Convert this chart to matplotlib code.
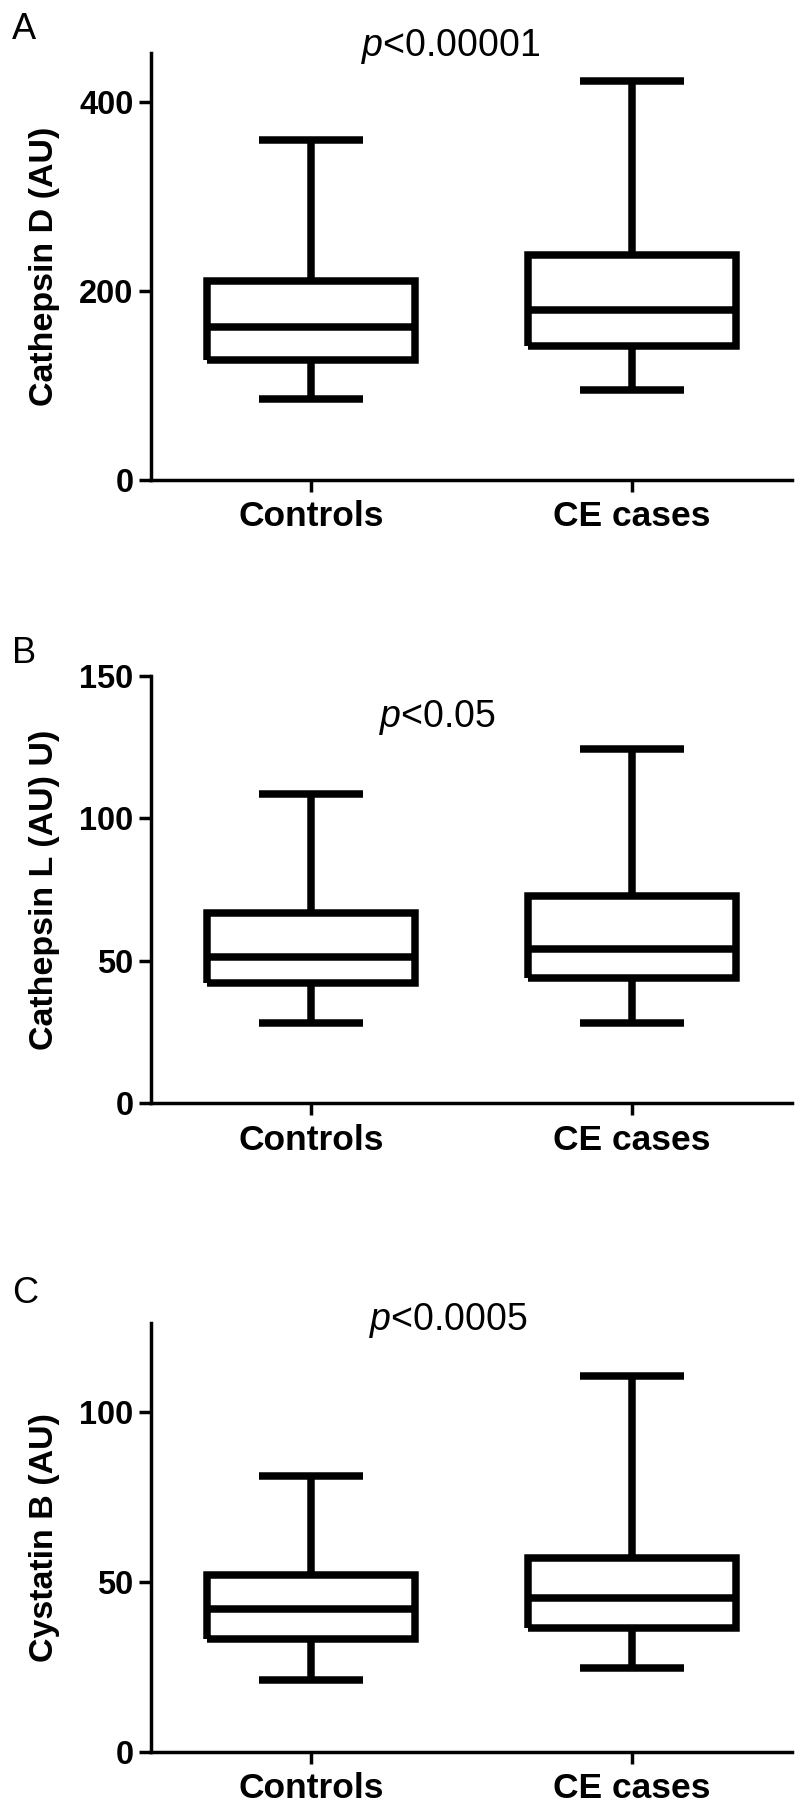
import matplotlib
matplotlib.use("Agg")
import matplotlib.pyplot as plt

plt.rcParams['font.family'] = ['Liberation Sans', 'DejaVu Sans']
plt.rcParams['mathtext.fontset'] = 'custom'
plt.rcParams['mathtext.rm'] = 'Liberation Sans'
plt.rcParams['mathtext.it'] = 'Liberation Sans:italic'

# groups on the x axis
groups = ['Controls', 'CE cases']

# five-number summaries: min, Q1, median, Q3, max
ctsd_controls = [86, 127, 162, 210.5, 360]
ctsd_cases = [95.5, 142, 180, 238, 422.5]

ctsl_controls = [28, 42.3, 51.4, 66.6, 108.5]
ctsl_cases = [28, 43.9, 54.2, 72.8, 124.3]

cstb_controls = [21, 33.2, 41.9, 52.1, 81]
cstb_cases = [24.5, 36.3, 45.2, 56.9, 110.4]

# panel texts
panel_letters = ['A', 'B', 'C']
y_labels = ['Cathepsin D (AU)', 'Cathepsin L (AU) U)', 'Cystatin B (AU)']
p_texts = ['$\\mathit{p}$<0.00001', '$\\mathit{p}$<0.05', '$\\mathit{p}$<0.0005']
y_ticks = [[0, 200, 400], [0, 50, 100, 150], [0, 50, 100]]
y_tops = [452, 150, 126]


def make_stats(summary, label):
    lo, q1, med, q3, hi = summary
    return {'whislo': lo, 'q1': q1, 'med': med, 'q3': q3, 'whishi': hi,
            'label': label, 'fliers': []}


def draw_panel(ax, controls, cases, ylabel, ticks, ytop, ptext, p_pos):
    stats = [make_stats(controls, groups[0]), make_stats(cases, groups[1])]
    lw = 5.4
    line = dict(color='black', linewidth=lw, solid_joinstyle='miter',
                solid_capstyle='butt')
    ax.bxp(stats, positions=[1, 2], widths=0.65, capwidths=0.325,
           showfliers=False, boxprops=line, whiskerprops=line,
           capprops=line, medianprops=line)

    ax.set_xlim(0.5, 2.5)
    ax.set_ylim(0, ytop)
    ax.set_yticks(ticks)
    ax.set_xticks([1, 2])
    ax.set_xticklabels(groups, fontsize=25.5, fontweight='bold')
    for lab in ax.get_yticklabels():
        lab.set_fontsize(23.5)
        lab.set_fontweight('bold')

    for side in ['top', 'right']:
        ax.spines[side].set_visible(False)
    for side in ['left', 'bottom']:
        ax.spines[side].set_linewidth(2.5)
    ax.tick_params(axis='both', length=8.6, width=2.5, direction='out')
    ax.tick_params(axis='y', pad=4)
    ax.tick_params(axis='x', pad=6)

    ax.set_ylabel(ylabel, fontsize=24.5, fontweight='bold')
    ax.yaxis.set_label_coords(-0.142, 0.5)

    ax.text(p_pos[0], p_pos[1], ptext, transform=ax.transAxes,
            ha='center', va='baseline', fontsize=27)


fig = plt.figure(figsize=(8, 18.05), dpi=100)

# axes boxes in figure fractions (left, bottom, width, height)
rects = [[0.18875, 0.7341, 0.80125, 0.2367],
         [0.18875, 0.38875, 0.80125, 0.2369],
         [0.18875, 0.02953, 0.80125, 0.2373]]
p_positions = [(0.468, 0.993), (0.447, 0.879), (0.464, 0.984)]
letter_tops = [12, 636, 1276]

data = [(ctsd_controls, ctsd_cases), (ctsl_controls, ctsl_cases),
        (cstb_controls, cstb_cases)]

for i in range(3):
    ax = fig.add_axes(rects[i])
    draw_panel(ax, data[i][0], data[i][1], y_labels[i], y_ticks[i],
               y_tops[i], p_texts[i], p_positions[i])
    fig.text(12 / 800, 1 - letter_tops[i] / 1805, panel_letters[i],
             fontsize=26, va='top', ha='left')

fig.savefig('out.png', dpi=100, facecolor='white')
